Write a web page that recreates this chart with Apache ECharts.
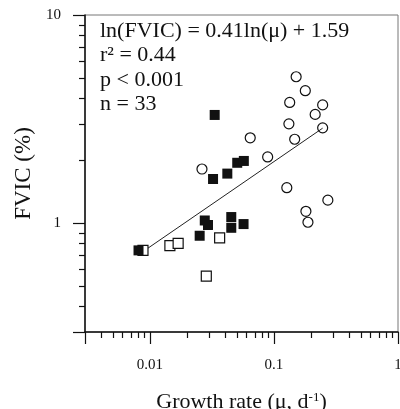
<!DOCTYPE html>
<html>
<head>
<meta charset="utf-8">
<script src="https://cdn.jsdelivr.net/npm/echarts@6/dist/echarts.min.js"></script>
<style>
  html, body { margin: 0; padding: 0; background: #fff; }
  #chart { width: 400px; height: 409px; }
</style>
</head>
<body>
<div id="chart"></div>
<script>
// growth rate (mu, d-1) vs FVIC (%)
const filledSquares = [
  [0.0081, 0.74], [0.0333, 3.31], [0.0323, 1.63], [0.0421, 1.73],
  [0.0506, 1.95], [0.0572, 1.99], [0.0277, 1.03], [0.0294, 0.98],
  [0.0453, 1.07], [0.0453, 0.95], [0.0569, 0.99], [0.0252, 0.87]
];
const openSquares = [
  [0.0088, 0.74], [0.0145, 0.78], [0.0169, 0.80], [0.0365, 0.85], [0.0285, 0.556]
];
const openCircles = [
  [0.151, 5.05], [0.179, 4.33], [0.134, 3.80], [0.247, 3.70], [0.215, 3.33],
  [0.132, 3.00], [0.247, 2.87], [0.147, 2.53], [0.089, 2.08], [0.127, 1.48],
  [0.272, 1.29], [0.181, 1.14], [0.188, 1.01], [0.0644, 2.57], [0.0263, 1.82]
];
const fitLine = [[0.0088, 0.73], [0.247, 2.86]];

const xMinorTicks = [0.004, 0.005, 0.006, 0.007, 0.008, 0.009,
  0.02, 0.03, 0.04, 0.05, 0.06, 0.07, 0.08, 0.09,
  0.2, 0.3, 0.4, 0.5, 0.6, 0.7, 0.8, 0.9];
const yMinorTicks = [0.4, 0.5, 0.6, 0.7, 0.8, 0.9, 2, 3, 4, 5, 6, 7, 8, 9];
const statLines = ['ln(FVIC) = 0.41ln(\u03bc) + 1.59', 'r\u00b2 = 0.44', 'p < 0.001', 'n = 33'];

const font = 'Liberation Serif';
const isDecade = v => Math.abs(Math.log10(v) - Math.round(Math.log10(v))) < 1e-6;

const chart = echarts.init(document.getElementById('chart'));
chart.setOption({
  animation: false,
  grid: {
    left: 85, right: 2, top: 15, bottom: 77, containLabel: false, outerBoundsMode: 'none',
    show: true, borderColor: '#777', borderWidth: 1
  },
  xAxis: {
    type: 'log', logBase: 10, min: 0.003, max: 1,
    name: 'Growth rate (\u03bc, d{sup|-1})', nameLocation: 'middle', nameGap: 59,
    nameTextStyle: {
      fontFamily: font, fontSize: 22, color: '#111',
      rich: { sup: { fontFamily: font, fontSize: 13, verticalAlign: 'top', padding: [0, 0, 10, 0], color: '#111' } }
    },
    axisLine: { lineStyle: { color: '#111', width: 1.5 } },
    axisTick: { length: 12, lineStyle: { color: '#111', width: 1.2 } },
    axisLabel: {
      fontFamily: font, fontSize: 15, color: '#111', margin: 26,
      formatter: v => isDecade(v) ? String(+v.toPrecision(3)) : ''
    },
    splitLine: { show: false }
  },
  yAxis: {
    type: 'log', logBase: 10, min: 0.3, max: 10,
    name: 'FVIC (%)', nameLocation: 'middle', nameGap: 48,
    nameTextStyle: { fontFamily: font, fontSize: 23, color: '#111' },
    axisLine: { lineStyle: { color: '#111', width: 1.5 } },
    axisTick: { length: 12, lineStyle: { color: '#111', width: 1.2 } },
    axisLabel: {
      fontFamily: font, fontSize: 15, color: '#111', margin: 24,
      formatter: v => isDecade(v) ? String(+v.toPrecision(3)) : ''
    },
    splitLine: { show: false }
  },
  series: [
    {
      type: 'line', data: fitLine, symbol: 'none', z: 1,
      lineStyle: { color: '#222', width: 1 }
    },
    {
      type: 'scatter', data: openSquares, symbol: 'rect', symbolSize: 10, z: 2,
      itemStyle: { color: '#fff', borderColor: '#111', borderWidth: 1.2, opacity: 1 }
    },
    {
      type: 'scatter', data: filledSquares, symbol: 'rect', symbolSize: 10, z: 3,
      itemStyle: { color: '#111', opacity: 1 }
    },
    {
      type: 'scatter', data: openCircles, symbol: 'circle', symbolSize: 10, z: 3,
      itemStyle: { color: 'rgba(255,255,255,0)', borderColor: '#111', borderWidth: 1.2, opacity: 1 }
    }
  ]
});

// minor ticks at 2..9 of each decade, placed through the axis scales
function drawExtras() {
  const left = chart.convertToPixel({ xAxisIndex: 0 }, 0.003);
  const bottom = chart.convertToPixel({ yAxisIndex: 0 }, 0.3);
  const els = [];
  xMinorTicks.forEach(v => {
    const x = Math.round(chart.convertToPixel({ xAxisIndex: 0 }, v)) + 0.5;
    els.push({ type: 'line', shape: { x1: x, y1: bottom, x2: x, y2: bottom + 6 },
      style: { stroke: '#111', lineWidth: 1.2 } });
  });
  yMinorTicks.forEach(v => {
    const y = Math.round(chart.convertToPixel({ yAxisIndex: 0 }, v)) + 0.5;
    els.push({ type: 'line', shape: { x1: left - 6, y1: y, x2: left, y2: y },
      style: { stroke: '#111', lineWidth: 1.2 } });
  });
  statLines.forEach((t, i) => {
    els.push({ type: 'text', left: 100, top: 20 + i * 24.5,
      style: { text: t, font: '22px "' + font + '"', fill: '#111' } });
  });
  chart.setOption({ graphic: els });
}
drawExtras();
</script>
</body>
</html>
